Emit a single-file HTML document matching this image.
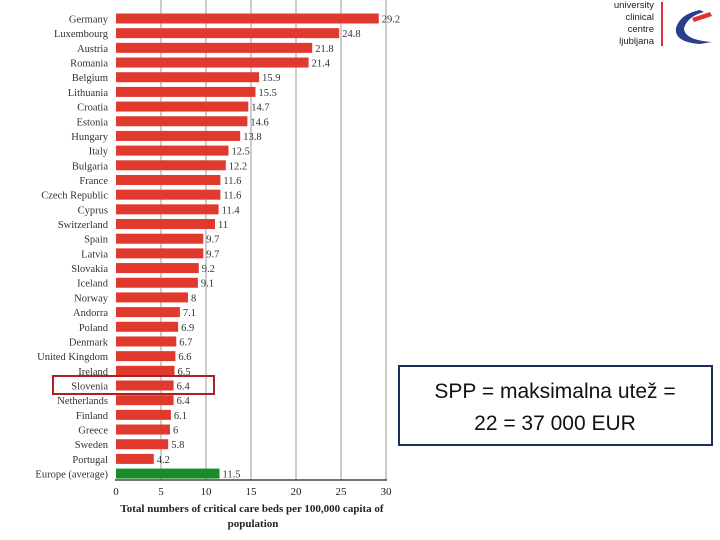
<!DOCTYPE html>
<html><head><meta charset="utf-8"><style>
body{margin:0;width:720px;height:540px;background:#fff;overflow:hidden;position:relative;font-family:"Liberation Serif",serif}
svg{position:absolute;left:0;top:0}
</style></head><body>
<svg width="720" height="540">
<g id="grid"></g><g id="bars"></g><g id="axis"></g>
<text x="252" y="512" font-size="11" font-weight="bold" text-anchor="middle" fill="#222">Total numbers of critical care beds per 100,000 capita of</text>
<text x="253" y="527" font-size="11" font-weight="bold" text-anchor="middle" fill="#222">population</text>
<rect x="53" y="376" width="161" height="18" fill="none" stroke="#b02020" stroke-width="2"/>
<rect x="399" y="366" width="313" height="79" fill="#fff" stroke="#1f2d5a" stroke-width="2"/>
<text x="555" y="398" font-family="Liberation Sans, sans-serif" font-size="21" text-anchor="middle" fill="#111">SPP = maksimalna utež =</text>
<text x="555" y="430" font-family="Liberation Sans, sans-serif" font-size="21" text-anchor="middle" fill="#111">22 = 37 000 EUR</text>
<g font-family="Liberation Sans, sans-serif" font-size="9.5" fill="#222" text-anchor="end">
<text x="654" y="8">university</text><text x="654" y="20">clinical</text><text x="654" y="32">centre</text><text x="654" y="44">ljubljana</text>
<line x1="662" y1="2" x2="662" y2="46" stroke="#d33" stroke-width="2"/>
<path d="M700 10 Q680 14 676 28 Q674 42 700 44 L712 42 Q684 40 684 28 Q688 16 704 12 Z" fill="#2a3f8c"/>
<path d="M692 18 L710 12 L712 16 L694 22 Z" fill="#d33"/>
</g>
</svg>
<script>
const categories=["Germany","Luxembourg","Austria","Romania","Belgium","Lithuania","Croatia","Estonia","Hungary","Italy","Bulgaria","France","Czech Republic","Cyprus","Switzerland","Spain","Latvia","Slovakia","Iceland","Norway","Andorra","Poland","Denmark","United Kingdom","Ireland","Slovenia","Netherlands","Finland","Greece","Sweden","Portugal","Europe (average)"];
const values=[29.2,24.8,21.8,21.4,15.9,15.5,14.7,14.6,13.8,12.5,12.2,11.6,11.6,11.4,11,9.7,9.7,9.2,9.1,8,7.1,6.9,6.7,6.6,6.5,6.4,6.4,6.1,6,5.8,4.2,11.5];
const valueLabels=["29.2","24.8","21.8","21.4","15.9","15.5","14.7","14.6","13.8","12.5","12.2","11.6","11.6","11.4","11","9.7","9.7","9.2","9.1","8","7.1","6.9","6.7","6.6","6.5","6.4","6.4","6.1","6","5.8","4.2","11.5"];
const ticks=[0,5,10,15,20,25,30];
const NS="http://www.w3.org/2000/svg";
const x=v=>116+v*9.0;
const y=i=>18.5+i*14.68;
function mk(t,a,p){const e=document.createElementNS(NS,t);for(const k in a)e.setAttribute(k,a[k]);p.appendChild(e);return e;}
const grid=document.getElementById('grid'),bars=document.getElementById('bars'),axis=document.getElementById('axis');
ticks.forEach(t=>{
 if(t>0){const g=mk('line',{x1:x(t),x2:x(t),y1:0,y2:480,stroke:'#999','stroke-width':1},grid);
 
 }
 const l=mk('text',{x:x(t),y:495,'font-size':11,'text-anchor':'middle',fill:'#222'},axis);l.textContent=t;
 
 
});
const ax=mk('line',{x1:115,x2:387,y1:480,y2:480,stroke:'#222','stroke-width':1.2},axis);


categories.forEach((c,i)=>{
 const last=i===categories.length-1;
 const r=mk('rect',{x:116,y:y(i)-5,width:x(values[i])-116,height:10,fill:last?'#1a8a2a':'#e0392e'},bars);
 
 
 const lb=mk('text',{x:108,y:y(i)+4,'font-size':10.5,'text-anchor':'end',fill:'#333'},bars);lb.textContent=c;
 
 
 const vl=mk('text',{x:x(values[i])+3,y:y(i)+4,'font-size':10.5,fill:'#333'},bars);vl.textContent=valueLabels[i];
 
 
});
</script>
</body></html>
